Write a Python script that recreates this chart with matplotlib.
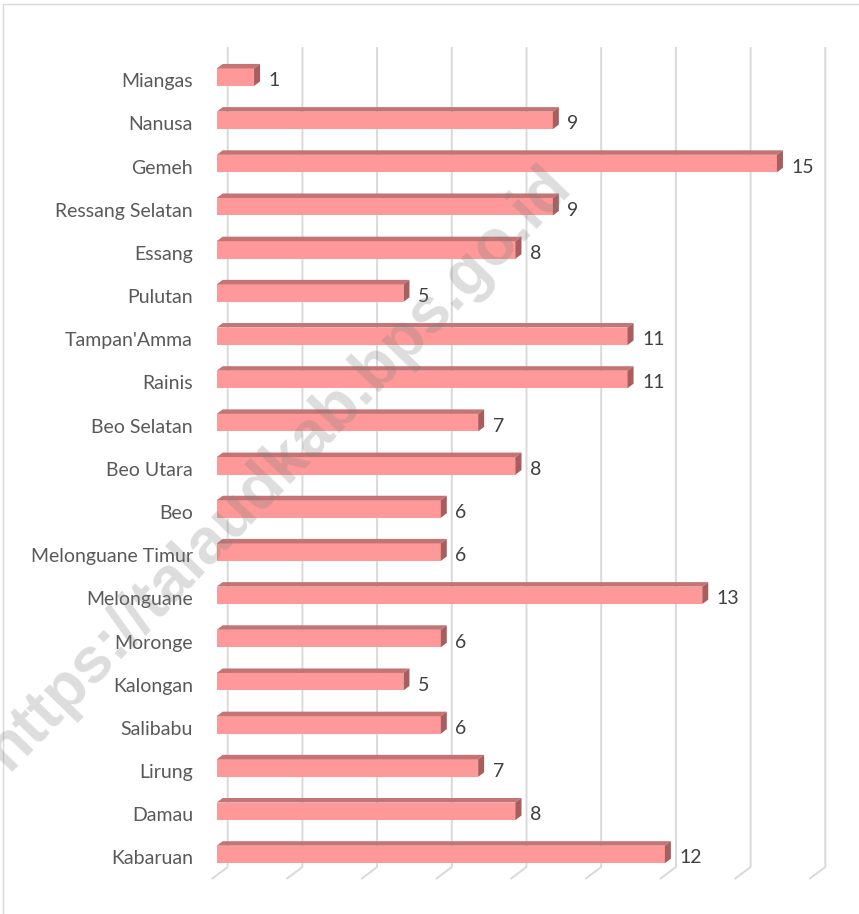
import matplotlib
matplotlib.use('Agg')
import matplotlib.pyplot as plt
from matplotlib.patches import Polygon, Rectangle
from matplotlib.transforms import ScaledTranslation

categories = ["Miangas", "Nanusa", "Gemeh", "Ressang Selatan", "Essang", "Pulutan",
              "Tampan'Amma", "Rainis", "Beo Selatan", "Beo Utara", "Beo",
              "Melonguane Timur", "Melonguane", "Moronge", "Kalongan", "Salibabu",
              "Lirung", "Damau", "Kabaruan"]
values = [1, 9, 15, 9, 8, 5, 11, 11, 7, 8, 6, 6, 13, 6, 5, 6, 7, 8, 12]
grid_ticks = [0, 2, 4, 6, 8, 10, 12, 14, 16]
watermark = "https://talaudkab.bps.go.id"

W, H = 859, 914
fig = plt.figure(figsize=(W / 100, H / 100), dpi=100)
fig.patch.set_facecolor('white')

# geometry (pixels)
x0_px = 216.7
unit = 37.35
row0 = 77.2
step = 43.18
ax_top_px, ax_bot_px = 30, 900
xmax = 17

ax = fig.add_axes([x0_px / W, 1 - ax_bot_px / H, xmax * unit / W, (ax_bot_px - ax_top_px) / H])
ax.set_xlim(0, xmax)
ax.set_ylim((ax_bot_px - row0) / step, (ax_top_px - row0) / step)
for s in ax.spines.values():
    s.set_visible(False)
ax.set_xticks([])
ax.set_facecolor('none')

# 3D-ish gridlines (back wall + floor)
back = 11 / unit
slx = 16 / unit
ytop = (47 - row0) / step
ybot = (867 - row0) / step
yfl = (879 - row0) / step
for g in grid_ticks:
    ax.plot([g + back, g + back, g + back - slx], [ytop, ybot, yfl],
            color='#D9D9D9', lw=1.4, zorder=0, clip_on=False, solid_capstyle='butt')

# bars
h = 17.5 / step
ddx = 6 / unit
ddy = -4.5 / step
front_c = '#FF9999'
top_c = '#C47474'
side_c = '#A85E5E'
for i, v in enumerate(values):
    ax.barh(i, v, height=h, left=0, color=front_c, edgecolor='none', zorder=2)
    yt = i - h / 2
    yb = i + h / 2
    ax.add_patch(Polygon([(0, yt), (v, yt), (v + ddx, yt + ddy), (ddx, yt + ddy)],
                         closed=True, facecolor=top_c, edgecolor='none', zorder=2))
    ax.add_patch(Polygon([(v, yt), (v + ddx, yt + ddy), (v + ddx, yb + ddy), (v, yb)],
                         closed=True, facecolor=side_c, edgecolor='none', zorder=2))
    ax.annotate(str(v), xy=(v, i), xytext=(10.5, -2.5), textcoords='offset points',
                ha='left', va='center', fontsize=14, family='Lato', color='#404040')

ax.set_yticks(range(len(categories)))
ax.set_yticklabels(categories, family='Lato', fontsize=14, color='#595959')
ax.tick_params(axis='y', length=0, pad=17.0)
for lab in ax.get_yticklabels():
    lab.set_transform(lab.get_transform() + ScaledTranslation(0, -3 / 100, fig.dpi_scale_trans))

# border
fig.patches.append(Rectangle((3.5 / W, -0.1), 2, 1 - 4 / H + 0.1, transform=fig.transFigure,
                             fill=False, edgecolor='#D9D9D9', lw=1.0))

# watermark
fig.text(290 / W, 1 - 480 / H, watermark, rotation=46, rotation_mode='anchor',
         ha='center', va='baseline', fontsize=46, family='Liberation Sans',
         fontweight='bold', color='#808080', alpha=0.27, zorder=10)

fig.savefig('out.png', dpi=100)
